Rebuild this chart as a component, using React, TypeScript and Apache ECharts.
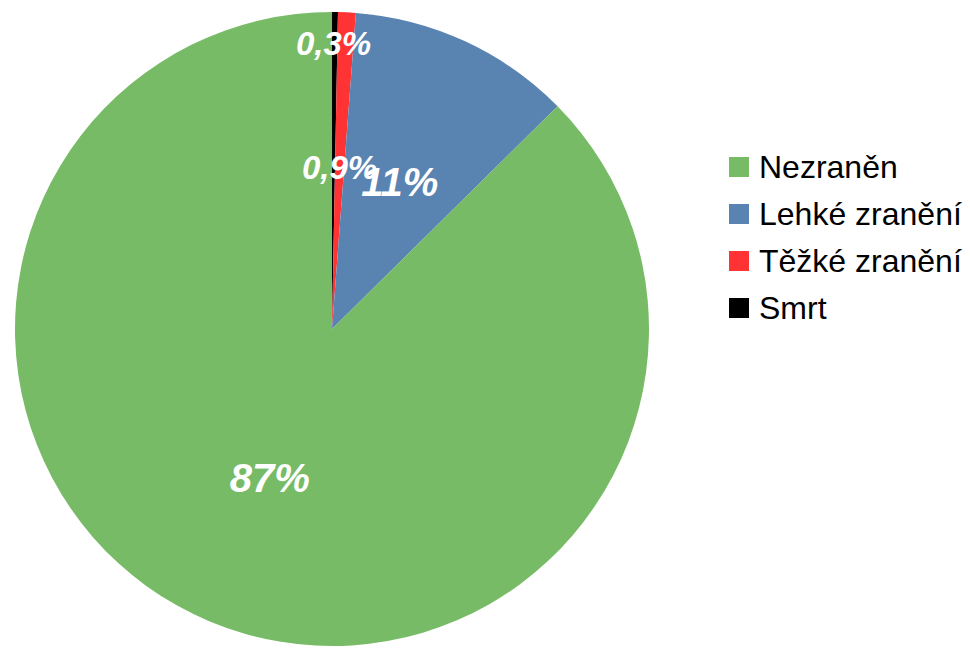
import React, { useEffect, useRef } from "react";
import * as echarts from "echarts";

// Data in clockwise order starting at 12 o'clock
const categories = ["Smrt", "Těžké zranění", "Lehké zranění", "Nezraněn"];
const values = [0.3, 0.9, 11.4, 87.4];
const colors = ["#000000", "#ff3333", "#5983b0", "#77bb66"];
const legendOrder = ["Nezraněn", "Lehké zranění", "Těžké zranění", "Smrt"];

const total = values.reduce((a, b) => a + b, 0);
const fmt = (v: number) => {
  const p = (v / total) * 100;
  return p >= 10 ? `${Math.round(p)}%` : `${p.toFixed(1).replace(".", ",")}%`;
};

export default function App() {
  const ref = useRef<HTMLDivElement>(null);
  useEffect(() => {
    if (!ref.current) return;
    const chart = echarts.init(ref.current, null, { renderer: "svg" });
    chart.setOption({
      animation: false,
      backgroundColor: "#ffffff",
      legend: {
        orient: "vertical",
        left: 729,
        top: 151,
        padding: 0,
        data: legendOrder,
        icon: "rect",
        itemWidth: 20,
        itemHeight: 20,
        itemGap: 15,
        textStyle: {
          fontFamily: "Liberation Sans",
          fontSize: 32,
          lineHeight: 32,
          color: "#000000",
          padding: [0, 0, 0, 5],
        },
      },
      series: [
        {
          type: "pie",
          center: [332, 329],
          radius: [0, 317],
          startAngle: 90,
          clockwise: true,
          avoidLabelOverlap: false,
          silent: true,
          label: {
            show: true,
            position: "inside",
            color: "#ffffff",
            fontFamily: "Liberation Sans",
            fontWeight: "bold",
            fontStyle: "italic",
            fontSize: 40,
            formatter: (p: any) => fmt(p.value),
          },
          labelLine: { show: false },
          labelLayout: (p: any) => (p.dataIndex === 0 ? { dy: -124 } : {}),
          data: categories.map((name, i) => ({
            name,
            value: values[i],
            itemStyle: { color: colors[i] },
            label: values[i] / total < 0.05 ? { fontSize: 33 } : undefined,
          })),
        },
      ],
    });
    return () => chart.dispose();
  }, []);
  return (
    <div
      ref={ref}
      style={{ position: "fixed", left: 0, top: 0, width: 970, height: 649 }}
    />
  );
}
